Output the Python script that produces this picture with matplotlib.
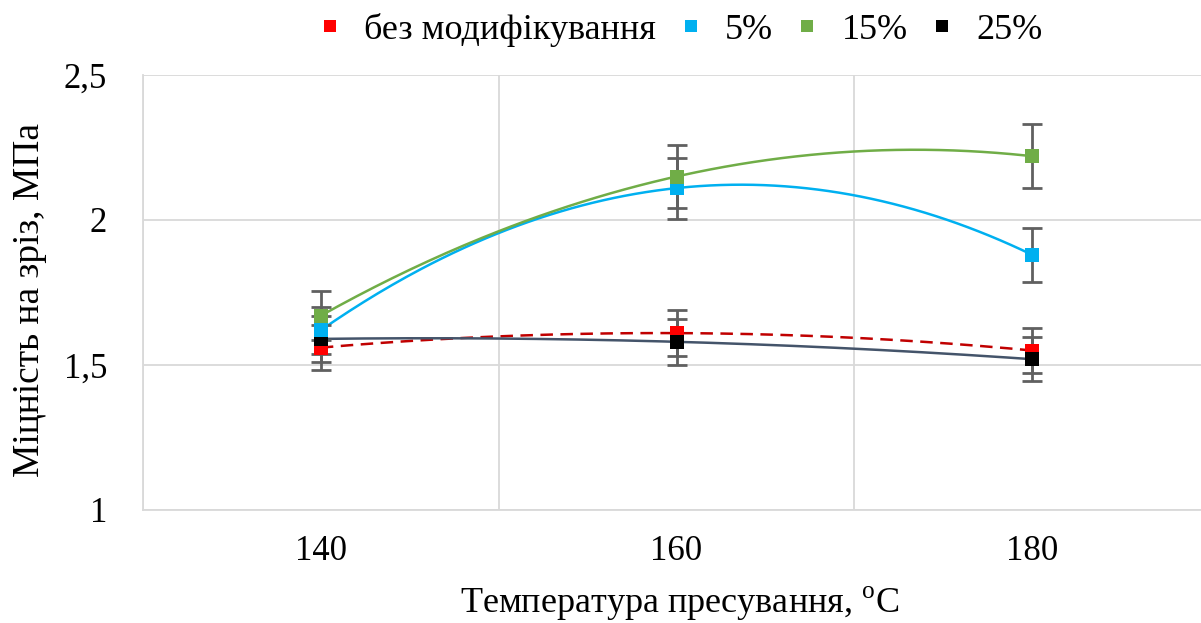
import numpy as np
import matplotlib
matplotlib.use("Agg")
import matplotlib.pyplot as plt
from matplotlib.lines import Line2D

plt.rcParams['font.family'] = ['Liberation Serif', 'DejaVu Serif']
plt.rcParams['mathtext.fontset'] = 'custom'
plt.rcParams['mathtext.rm'] = 'Liberation Serif'

categories = ["140", "160", "180"]
series_names = ["без модифікування", "5%", "15%", "25%"]
s_none = [1.56, 1.61, 1.55]
s_5 = [1.62, 2.11, 1.88]
s_15 = [1.67, 2.15, 2.22]
s_25 = [1.59, 1.58, 1.52]
err_pct = 0.05
y_ticks = [1, 1.5, 2, 2.5]
y_tick_labels = ["1", "1,5", "2", "2,5"]

colors = ["#FF0000", "#00B0F0", "#70AD47", "#000000"]
trend_colors = ["#C00000", "#00B0F0", "#70AD47", "#44546A"]
trend_styles = [(0, (5, 3)), '-', '-', '-']
marker_z = [4, 6, 7, 5]

fig = plt.figure(figsize=(12.01, 6.23), dpi=100)
ax = fig.add_axes([143/1201, 1-510/623, 1067/1201, 435/623])

x = np.arange(len(categories))
xs = np.linspace(0, 2, 200)
data = [s_none, s_5, s_15, s_25]

for i, vals in enumerate(data):
    v = np.array(vals)
    coef = np.polyfit(x, v, 2)
    ax.plot(xs, np.polyval(coef, xs), color=trend_colors[i], lw=1.8,
            linestyle=trend_styles[i], zorder=2)
for i, vals in enumerate(data):
    v = np.array(vals)
    ax.errorbar(x, v, yerr=v*err_pct, fmt='none', ecolor='#606060',
                elinewidth=2, capsize=7, capthick=2, zorder=3)
for i, vals in enumerate(data):
    ax.plot(x, vals, linestyle='none', marker='s', markersize=10.5,
            color=colors[i], markeredgewidth=0, zorder=marker_z[i])

ax.set_xlim(-0.5, 2.5)
ax.set_ylim(1, 2.5)
ax.set_xticks(x)
ax.set_xticklabels(categories)
ax.set_xticks([-0.5, 0.5, 1.5, 2.5], minor=True)
ax.set_yticks(y_ticks)
ax.set_yticklabels(y_tick_labels)
ax.tick_params(axis='both', which='both', length=0, labelsize=25, colors='black')
ax.tick_params(axis='x', pad=18)
ax.tick_params(axis='y', pad=26)
ax.grid(True, axis='y', which='major', color='#D9D9D9', lw=1.3)
ax.grid(True, axis='x', which='minor', color='#D9D9D9', lw=1.3)
for sp in ['top', 'right']:
    ax.spines[sp].set_visible(False)
ax.spines['left'].set_color('#D9D9D9')
ax.spines['left'].set_linewidth(1.3)
ax.spines['bottom'].set_color('#D9D9D9')
ax.spines['bottom'].set_linewidth(1.3)

fig.text(680/1201, 1-604/623, "Температура пресування, $^{\\mathrm{o}}$C", fontsize=26,
         ha='center', va='center')
fig.text(30/1201, 1-300/623, "Міцність на зріз, МПа", rotation=90, fontsize=27,
         ha='center', va='center')

handles = [Line2D([], [], linestyle='none', marker='s', markersize=9,
                  color=c, markeredgewidth=0) for c in colors]
fig.legend(handles, series_names, loc='center', bbox_to_anchor=(680/1201, 1-30/623),
           ncol=4, frameon=False, fontsize=26, handlelength=0.7, handletextpad=0.6,
           columnspacing=0.6, borderpad=0)

fig.savefig("out.png", dpi=100)
